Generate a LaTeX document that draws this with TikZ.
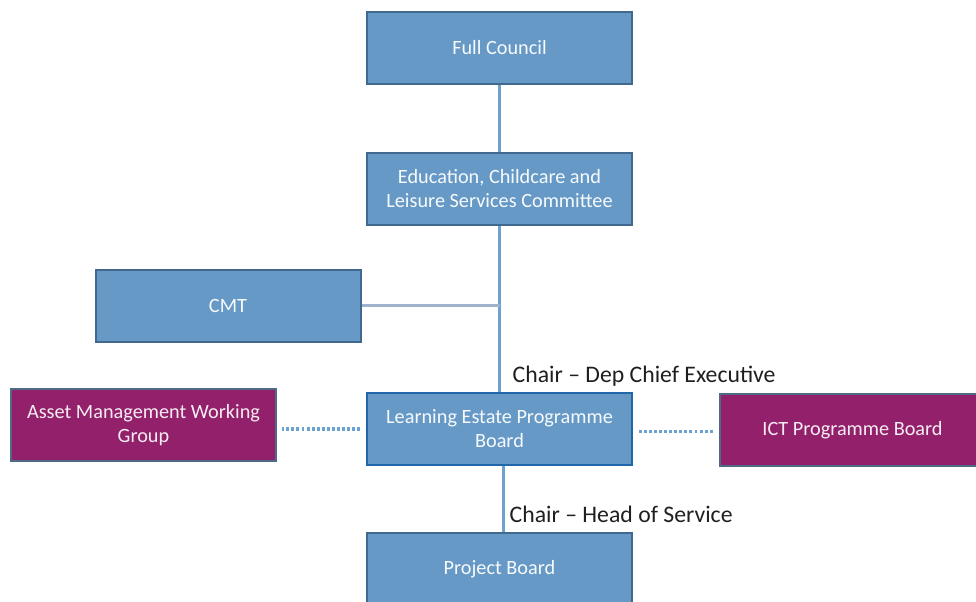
\documentclass[tikz,border=0pt]{standalone}
\usepackage{fontspec}
\setmainfont{Carlito}
\definecolor{boxblue}{HTML}{6699C6}
\definecolor{boxline}{HTML}{41698F}
\definecolor{boardline}{HTML}{1F67A8}
\definecolor{plum}{HTML}{93206B}
\definecolor{plumline}{HTML}{4F6A86}
\definecolor{linkblue}{HTML}{6CA2D2}
\definecolor{sidegray}{HTML}{9FB4CC}
\begin{document}
\begin{tikzpicture}[x=0.75pt, y=-0.75pt]
	\tikzset{box/.style={rectangle, fill=boxblue, draw=boxline, line width=1.5pt,
		minimum width=198.75pt, minimum height=54pt, text=white!95!boxblue,
		align=center, font=\fontsize{15.2}{18}\selectfont}};
	\tikzset{sidebox/.style={box, fill=plum, draw=plumline, text=white!92!plum}};
	\tikzset{link/.style={draw=linkblue, line width=2.2pt}};
	\tikzset{dots/.style={link, line width=2.4pt, dash pattern=on 2.2pt off 1.6pt, shorten >=4pt, shorten <=4pt}};
	\tikzset{chair/.style={anchor=west, text=black!88, font=\fontsize{17.8}{20}\selectfont}};
	\useasboundingbox (0, 0) rectangle (976, 601);

	\node[box] (council) at (499.5, 47.5) {Full Council};
	\node[box] (edu) at (499.5, 189) {Education, Childcare and\\Leisure Services Committee};
	\node[box] (cmt) at (228, 305.5) {CMT};
	\node[box, draw=boardline, line width=2.2pt] (lepb) at (499.5, 429) {Learning Estate Programme\\Board};
	\node[box] (pb) at (499.5, 569) {Project Board};
	\node[sidebox] (asset) at (143.5, 425) {Asset Management Working\\Group};
	\node[sidebox] (ict) at (852.5, 430) {ICT Programme Board};

	\draw[link] (council) -- (edu);
	\draw[link] (edu) -- (lepb);
	\draw[link] ([xshift=3pt]lepb.south) -- ([xshift=3pt]pb.north);
	\draw[draw=sidegray, line width=2.2pt] (cmt.east) -- (cmt.east -| edu.south);
	\draw[dots] (lepb.west) -- (lepb.west -| asset.east);
	\draw[dots] ([yshift=-2pt]lepb.east) -- ([yshift=-2pt]lepb.east -| ict.west);

	\node[chair] (chairdep) at (508, 376) {Chair -- Dep Chief Executive};
	\node[chair] (chairhead) at (505, 514) {Chair -- Head of Service};
\end{tikzpicture}
\end{document}
